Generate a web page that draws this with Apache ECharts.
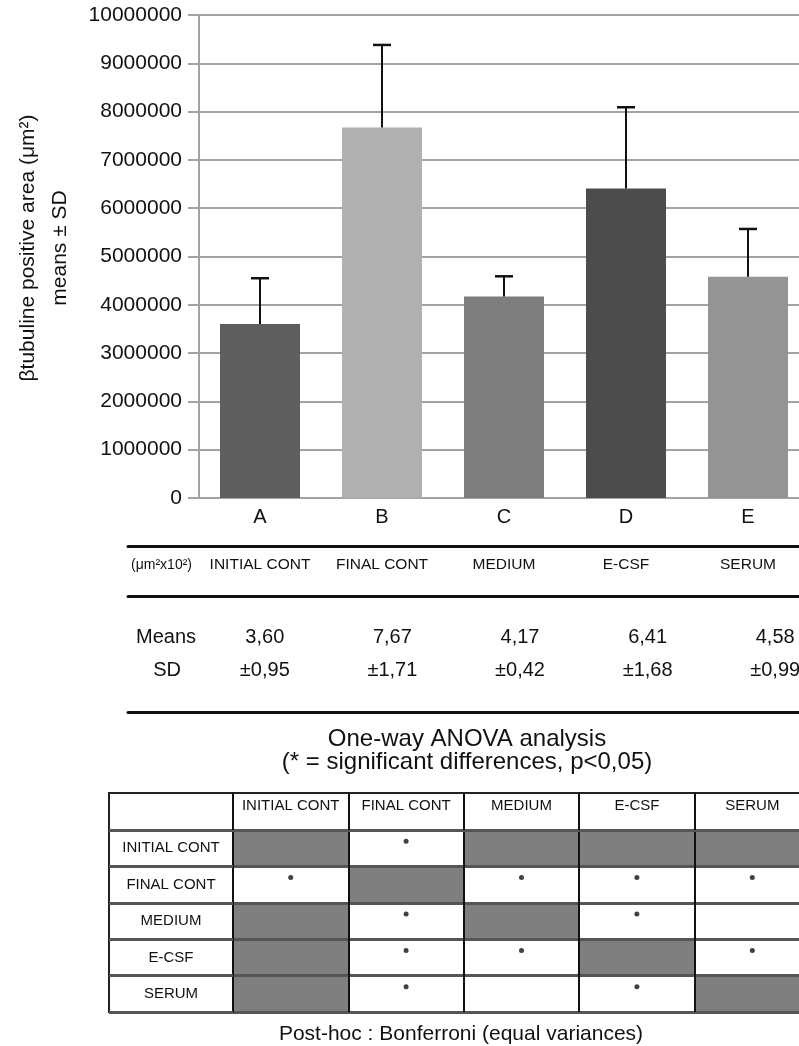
<!DOCTYPE html>
<html>
<head>
<meta charset="utf-8">
<script src="https://cdn.jsdelivr.net/npm/echarts@6/dist/echarts.min.js"></script>
<style>
html,body{margin:0;padding:0;background:#fff;}
#c{width:799px;height:1046px;}
</style>
</head>
<body>
<div id="c"></div>
<script>
// ---- data ----
const barLetters = ['A', 'B', 'C', 'D', 'E'];
const groupLabels = ['INITIAL CONT', 'FINAL CONT', 'MEDIUM', 'E-CSF', 'SERUM'];
const meanValues = [3.60, 7.67, 4.17, 6.41, 4.58];   // x10^6 µm²
const sdValues = [0.95, 1.71, 0.42, 1.68, 0.99];     // x10^6 µm²
const areaUnit = 1000000;
const yMax = 10000000;
const yStep = 1000000;
const meansText = ['3,60', '7,67', '4,17', '6,41', '4,58'];
const sdText = ['±0,95', '±1,71', '±0,42', '±1,68', '±0,99'];
// ANOVA table: shaded cells (1) and significant differences (1)
const shadedCells = [
  [1, 0, 1, 1, 1],
  [0, 1, 0, 0, 0],
  [1, 0, 1, 0, 0],
  [1, 0, 0, 1, 0],
  [1, 0, 0, 0, 1]
];
const significantCells = [
  [0, 1, 0, 0, 0],
  [1, 0, 1, 1, 1],
  [0, 1, 0, 1, 0],
  [0, 1, 1, 0, 1],
  [0, 1, 0, 1, 0]
];

// ---- styles ----
const FONT = "'Liberation Sans', Arial, Helvetica, sans-serif";
const barColors = ['#5e5e5e', '#b0b0b0', '#7e7e7e', '#4c4c4c', '#949494'];
const gridGray = '#a3a3a3';
const ink = '#111111';

const heatData = [];
const starData = [];
shadedCells.forEach((row, r) => row.forEach((v, c) => heatData.push([c, r, v])));
significantCells.forEach((row, r) => row.forEach((v, c) => { if (v) starData.push([c, r]); }));

const ruleAxis = (pos, offset) => ({
  gridIndex: 2, type: 'value', min: 0, max: 1, position: pos, offset: offset,
  axisLine: { show: true, onZero: false, lineStyle: { color: ink, width: 3 } },
  axisTick: { show: false }, axisLabel: { show: false }, splitLine: { show: false }
});

const chart = echarts.init(document.getElementById('c'), null, { renderer: 'canvas' });
const option = {
  animation: false,
  backgroundColor: '#ffffff',
  textStyle: { fontFamily: FONT, color: ink },
  title: [
    {
      text: 'One-way ANOVA analysis\n(* = significant differences, p<0,05)',
      left: 467, top: 728, textAlign: 'center', padding: 0,
      textStyle: { fontFamily: FONT, fontSize: 24, fontWeight: 'normal', color: ink, lineHeight: 23 }
    },
    {
      text: 'Post-hoc : Bonferroni (equal variances)',
      left: 461, top: 1024, textAlign: 'center', padding: 0,
      textStyle: { fontFamily: FONT, fontSize: 21, fontWeight: 'normal', color: ink, lineHeight: 21 }
    }
  ],
  grid: [
    { left: 199, top: 15, width: 610, height: 483, outerBoundsMode: 'none' },
    { left: 201, top: 600, width: 638, height: 37, outerBoundsMode: 'none' },
    { left: 128, top: 546, width: 681, height: 50, outerBoundsMode: 'none' },
    { left: 233, top: 830, width: 577, height: 182, outerBoundsMode: 'none' },
    { left: 109, top: 793, width: 701, height: 219, show: true, borderColor: '#222', borderWidth: 2,
      backgroundColor: 'transparent', outerBoundsMode: 'none' }
  ],
  visualMap: [{
    type: 'piecewise', show: false, seriesIndex: 2, dimension: 2,
    pieces: [{ value: 1, color: '#7f7f7f' }, { value: 0, color: '#ffffff' }]
  }],
  xAxis: [
    {
      gridIndex: 0, type: 'category', data: barLetters,
      axisLine: { show: true, lineStyle: { color: gridGray, width: 2 } },
      axisTick: { show: false },
      axisLabel: { interval: 0, margin: 9, fontSize: 20, color: ink, fontFamily: FONT },
      splitLine: { show: false }
    },
    {
      gridIndex: 0, type: 'category', data: groupLabels, position: 'bottom', offset: 67,
      axisLine: { show: false, onZero: false }, axisTick: { show: false },
      axisLabel: { interval: 0, margin: 0, verticalAlign: 'middle', fontSize: 15.5, color: ink, fontFamily: FONT },
      splitLine: { show: false },
      name: '(μm²x10²)', nameLocation: 'start', nameGap: 7,
      nameTextStyle: { fontSize: 14, color: ink, fontFamily: FONT }
    },
    {
      gridIndex: 1, type: 'category', data: meansText, position: 'bottom',
      axisLine: { show: false, onZero: false }, axisTick: { show: false },
      axisLabel: { interval: 0, margin: 0, verticalAlign: 'middle', fontSize: 20, color: ink, fontFamily: FONT },
      splitLine: { show: false },
      name: 'Means', nameLocation: 'start', nameGap: 5,
      nameTextStyle: { fontSize: 20, color: ink, fontFamily: FONT }
    },
    {
      gridIndex: 1, type: 'category', data: sdText, position: 'bottom', offset: 33,
      axisLine: { show: false, onZero: false }, axisTick: { show: false },
      axisLabel: { interval: 0, margin: 0, verticalAlign: 'middle', fontSize: 20, color: ink, fontFamily: FONT },
      splitLine: { show: false },
      name: 'SD', nameLocation: 'start', nameGap: 20,
      nameTextStyle: { fontSize: 20, color: ink, fontFamily: FONT }
    },
    ruleAxis('top', 0),
    ruleAxis('bottom', 0),
    ruleAxis('bottom', 116),
    {
      gridIndex: 3, type: 'category', data: groupLabels, position: 'top', z: 3,
      axisLine: { show: true, onZero: false, lineStyle: { color: '#555', width: 3 } },
      axisTick: { show: true, length: 37, lineStyle: { color: ink, width: 2 } },
      axisLabel: { interval: 0, margin: 24, verticalAlign: 'middle', fontSize: 15, color: ink, fontFamily: FONT },
      splitLine: { show: true, lineStyle: { color: ink, width: 2 } }
    },
    { gridIndex: 4, type: 'value', min: 0, max: 1, show: false }
  ],
  yAxis: [
    {
      gridIndex: 0, type: 'value', min: 0, max: yMax, interval: yStep,
      axisLine: { show: true, lineStyle: { color: gridGray, width: 2 } },
      axisTick: { show: true, length: 11, lineStyle: { color: gridGray, width: 2 } },
      axisLabel: { margin: 17, fontSize: 21, color: ink, fontFamily: FONT, formatter: v => String(v) },
      splitLine: { show: true, lineStyle: { color: gridGray, width: 2 } },
      name: 'βtubuline positive area (μm²)\nmeans ± SD',
      nameLocation: 'middle', nameGap: 123,
      nameTextStyle: { fontSize: 21, lineHeight: 32, color: ink, fontFamily: FONT, padding: [0, 0, 0, 17] }
    },
    { gridIndex: 1, type: 'value', min: 0, max: 1, show: false },
    { gridIndex: 2, type: 'value', min: 0, max: 1, show: false },
    {
      gridIndex: 3, type: 'category', data: groupLabels, inverse: true, z: 3,
      axisLine: { show: true, lineStyle: { color: ink, width: 2 } },
      axisTick: { show: true, length: 124, lineStyle: { color: '#555', width: 3 } },
      axisLabel: { interval: 0, align: 'center', margin: 62, fontSize: 15, color: ink, fontFamily: FONT },
      splitLine: { show: true, lineStyle: { color: '#555', width: 3 } }
    },
    { gridIndex: 4, type: 'value', min: 0, max: 1, show: false }
  ],
  series: [
    {
      type: 'bar', xAxisIndex: 0, yAxisIndex: 0,
      data: meanValues.map(v => Math.round(v * areaUnit)),
      barWidth: 80,
      itemStyle: { color: p => barColors[p.dataIndex] }
    },
    {
      type: 'custom', xAxisIndex: 0, yAxisIndex: 0, z: 3,
      data: meanValues.map((m, i) => [i, Math.round(m * areaUnit), Math.round(sdValues[i] * areaUnit)]),
      encode: { x: 0, y: 1 },
      renderItem: function (params, api) {
        const x = api.value(0), m = api.value(1), s = api.value(2);
        const base = api.coord([x, m]);
        const top = api.coord([x, m + s]);
        const hw = 9;
        return {
          type: 'group',
          children: [
            { type: 'line', shape: { x1: base[0], y1: base[1], x2: top[0], y2: top[1] },
              style: { stroke: ink, lineWidth: 2 } },
            { type: 'line', shape: { x1: top[0] - hw, y1: top[1], x2: top[0] + hw, y2: top[1] },
              style: { stroke: ink, lineWidth: 2.5 } }
          ]
        };
      }
    },
    {
      type: 'heatmap', xAxisIndex: 7, yAxisIndex: 3, data: heatData, z: 2,
      itemStyle: { borderWidth: 0 }, emphasis: { disabled: true }
    },
    {
      type: 'scatter', xAxisIndex: 7, yAxisIndex: 3, data: starData, z: 5,
      symbol: 'circle', symbolSize: 5, symbolOffset: [0, -7],
      itemStyle: { color: ink }
    }
  ]
};
chart.setOption(option);
</script>
</body>
</html>
